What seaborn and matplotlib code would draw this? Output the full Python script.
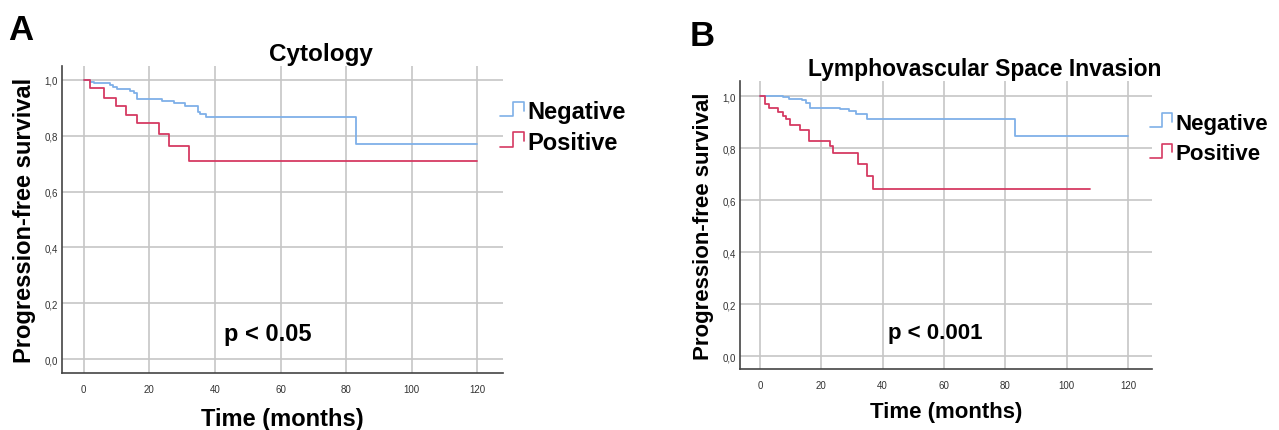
import matplotlib
matplotlib.use("Agg")
import matplotlib.pyplot as plt
from matplotlib.lines import Line2D
from matplotlib.legend_handler import HandlerBase
import seaborn as sns
import pandas as pd

# ---- data (Kaplan-Meier step points) ----
groups = ["Negative", "Positive"]

a_neg_t = [0, 2, 3, 7.9, 9, 10.2, 14, 15.3, 16.3, 24, 27.5, 31, 34.8, 35.6, 37.4, 83, 120]
a_neg_s = [1.0, 0.994, 0.989, 0.983, 0.976, 0.969, 0.962, 0.952, 0.932, 0.925, 0.919, 0.908,
           0.886, 0.877, 0.867, 0.771, 0.771]
a_pos_t = [0, 2, 6.1, 10, 13, 16.3, 23.1, 26.1, 32.1, 120]
a_pos_s = [1.0, 0.970, 0.937, 0.905, 0.874, 0.844, 0.805, 0.764, 0.710, 0.710]

b_neg_t = [0, 7.6, 9.4, 13.8, 15, 16.3, 26, 29, 31.2, 35, 83, 120]
b_neg_s = [1.0, 0.995, 0.990, 0.983, 0.973, 0.954, 0.949, 0.941, 0.931, 0.913, 0.845, 0.845]
b_pos_t = [0, 1.8, 2.9, 5.9, 7.6, 8.4, 9.8, 13, 16.1, 22.8, 23.9, 31.9, 35, 36.9, 107.7]
b_pos_s = [1.0, 0.971, 0.954, 0.939, 0.922, 0.910, 0.888, 0.871, 0.827, 0.808, 0.780,
           0.740, 0.693, 0.642, 0.642]

titles = ["Cytology", "Lymphovascular Space Invasion"]
panel_letters = ["A", "B"]
p_texts = ["p < 0.05", "p < 0.001"]
x_ticks = [0, 20, 40, 60, 80, 100, 120]
y_ticks = [0.0, 0.2, 0.4, 0.6, 0.8, 1.0]
y_tick_labels = ["0,0", "0,2", "0,4", "0,6", "0,8", "1,0"]

colors = {"Negative": "#7fb0e8", "Positive": "#d53a62"}


def frame(t_neg, s_neg, t_pos, s_pos):
    rows = []
    for t, s in zip(t_neg, s_neg):
        rows.append(("Negative", t, s))
    for t, s in zip(t_pos, s_pos):
        rows.append(("Positive", t, s))
    return pd.DataFrame(rows, columns=["group", "time", "surv"])


data = [frame(a_neg_t, a_neg_s, a_pos_t, a_pos_s),
        frame(b_neg_t, b_neg_s, b_pos_t, b_pos_s)]

sns.set_theme(style="white")
plt.rcParams["font.family"] = ["Liberation Sans", "DejaVu Sans"]
plt.rcParams["text.color"] = "black"
plt.rcParams["axes.labelcolor"] = "black"


class StepHandler(HandlerBase):
    def create_artists(self, legend, orig_handle, xdescent, ydescent, width, height,
                       fontsize, trans):
        x0 = -xdescent
        y0 = -ydescent
        xs = [x0, x0 + width * 0.55, x0 + width * 0.55, x0 + width, x0 + width]
        ys = [y0 + height * 0.1, y0 + height * 0.1, y0 + height * 1.0, y0 + height * 1.0,
              y0 + height * 0.45]
        ln = Line2D(xs, ys, color=orig_handle.get_color(), lw=1.2, transform=trans)
        return [ln]


fig = plt.figure(figsize=(12.79, 4.31), dpi=100)
axes_pos = [
    [62 / 1279, 1 - 374 / 431, (503 - 62) / 1279, (374 - 67) / 431],
    [740 / 1279, 1 - 370 / 431, (1152 - 740) / 1279, (370 - 82) / 431],
]
xlims = [(-6.6, 127.8), (-6.5, 127.8)]
ylims = [(-0.05, 1.05), (-0.05, 1.058)]
title_pads = [4, 4]
title_x = [0.587, 0.595]
title_fs = [17.5, 16.5]
letter_pos = [(8 / 1279, 1 - 40 / 431), (690 / 1279, 1 - 46 / 431)]
legend_pos = [(0.993, 0.889), (0.995, 0.889)]
legend_fs = [17, 16]
legend_spacing = [0.33, 0.42]
p_pos = [(56, 0.093), (57, 0.092)]
fs = [17, 16]
xlabel_pads = [9, 8]

for i in range(2):
    ax = fig.add_axes(axes_pos[i])
    sns.lineplot(data=data[i], x="time", y="surv", hue="group", palette=colors,
                 hue_order=groups, estimator=None, sort=False, drawstyle="steps-post",
                 lw=1.3, ax=ax, legend=False)
    ax.set_xlim(*xlims[i])
    ax.set_ylim(*ylims[i])
    ax.set_xticks(x_ticks)
    ax.set_xticklabels([str(v) for v in x_ticks], fontsize=7, color="#333333")
    ax.set_yticks(y_ticks)
    ax.set_yticklabels(y_tick_labels, fontsize=7, color="#333333")
    ax.tick_params(axis="y", length=0, pad=3)
    ax.tick_params(axis="x", length=0, pad=8)
    ax.grid(True, color="#c6c6c6", lw=1.2)
    ax.set_axisbelow(True)
    for s in ["top", "right"]:
        ax.spines[s].set_visible(False)
    for s in ["left", "bottom"]:
        ax.spines[s].set_color("#444444")
        ax.spines[s].set_linewidth(1.2)
    ax.set_xlabel("Time (months)", fontsize=fs[i], fontweight="bold",
                  labelpad=xlabel_pads[i])
    ax.set_ylabel("Progression-free survival", fontsize=fs[i], fontweight="bold",
                  labelpad=6)
    ax.set_title(titles[i], fontsize=title_fs[i], fontweight="bold", pad=title_pads[i],
                 x=title_x[i])
    ax.text(p_pos[i][0], p_pos[i][1], p_texts[i], fontsize=fs[i], fontweight="bold",
            ha="center", va="center")
    handles = [Line2D([], [], color=colors[g]) for g in groups]
    ax.legend(handles, groups, handler_map={Line2D: StepHandler()},
              loc="upper left", bbox_to_anchor=legend_pos[i], frameon=False,
              prop={"size": legend_fs[i], "weight": "bold"}, handlelength=1.0,
              handletextpad=0.15, labelspacing=legend_spacing[i], borderaxespad=0,
              borderpad=0)
    fig.text(letter_pos[i][0], letter_pos[i][1], panel_letters[i], fontsize=25,
             fontweight="bold", ha="left", va="baseline")

fig.savefig("out.png", dpi=100)
